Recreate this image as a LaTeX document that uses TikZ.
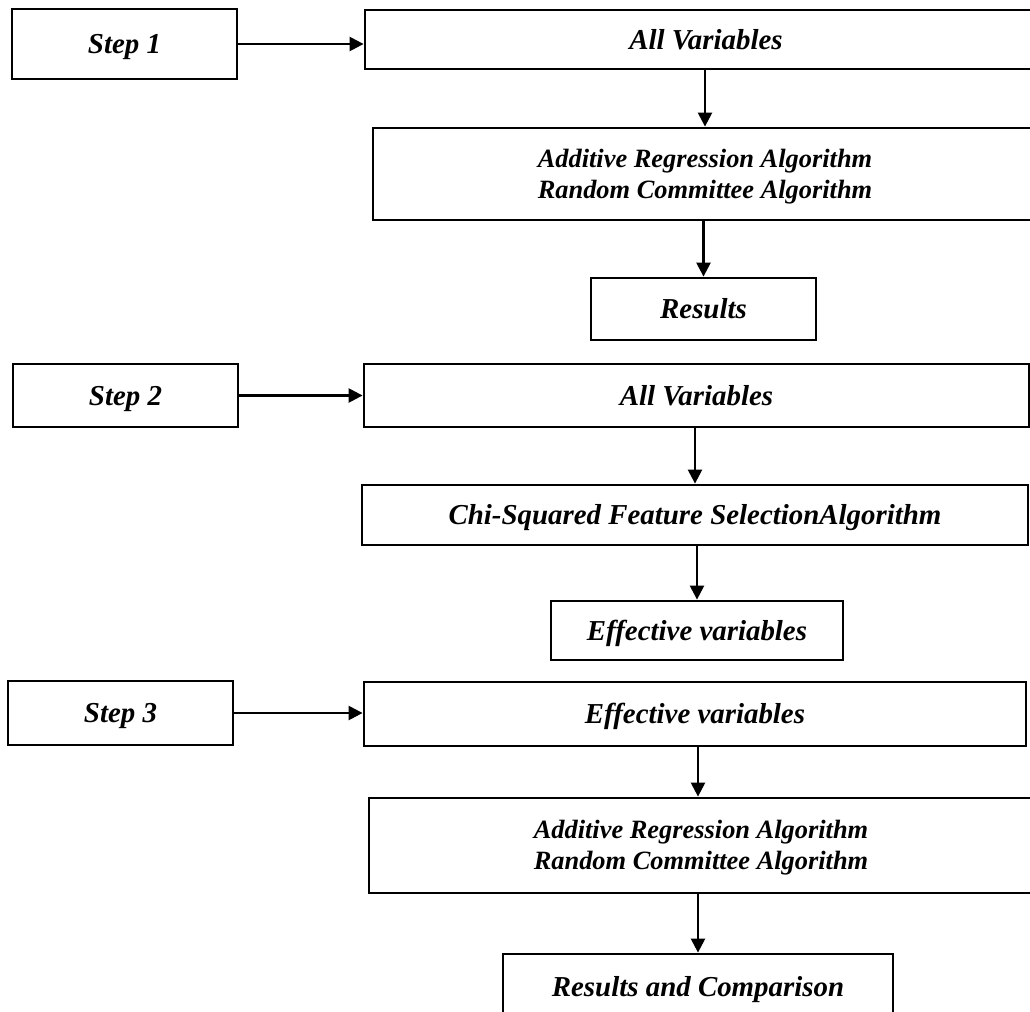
\documentclass[tikz,border=0pt]{standalone}
\usepackage{fontspec}
\setmainfont{Liberation Serif}
\usetikzlibrary{arrows.meta}
\begin{document}
\begin{tikzpicture}[x=1bp,y=-1bp,
  box/.style={draw=black, line width=2.8bp, inner sep=0pt, align=center,
    text height=19bp, text depth=0bp,
    font=\fontsize{29}{31}\selectfont\bfseries\itshape},
  algbox/.style={box, text height=48bp, text depth=0bp,
    font=\fontsize{26.5}{30.7}\selectfont\bfseries\itshape},
  arr/.style={line width=2.4bp, -{Triangle[length=14bp,width=14bp]}}]
\useasboundingbox (0,0) rectangle (1030,1012);
\clip (0,0) rectangle (1030,1012);
% Step 1
\node[box, minimum width=225bp, minimum height=70bp] (step1) at (124.5,44) {Step 1};
\node[box, minimum width=682bp, minimum height=59bp] (allvar1) at (706,39.5) {All Variables};
\node[algbox, minimum width=664bp, minimum height=92bp] (add1) at (705,174) {Additive Regression Algorithm\\Random Committee Algorithm};
\node[box, minimum width=225bp, minimum height=62bp] (res1) at (703.5,309) {Results};
% Step 2
\node[box, minimum width=225bp, minimum height=63bp] (step2) at (125.5,395.5) {Step 2};
\node[box, minimum width=665bp, minimum height=63bp] (allvar2) at (696.5,395.5) {All Variables};
\node[box, minimum width=666bp, minimum height=60bp] (chi) at (695,515) {Chi-Squared Feature SelectionAlgorithm};
\node[box, minimum width=292bp, minimum height=59bp] (eff1) at (697,630.5) {Effective variables};
% Step 3
\node[box, minimum width=225bp, minimum height=64bp] (step3) at (120.5,713) {Step 3};
\node[box, minimum width=662bp, minimum height=64bp] (eff2) at (695,714) {Effective variables};
\node[algbox, minimum width=664bp, minimum height=95bp] (add2) at (701,845.5) {Additive Regression Algorithm\\Random Committee Algorithm};
\node[box, minimum width=390bp, minimum height=66bp] (rc) at (698,987) {Results and Comparison};
% connectors
\draw[arr] (step1.east) -- (step1.east -| allvar1.west);
\draw[arr] (add1.north |- allvar1.south) -- (add1.north);
\draw[arr] (res1.north |- add1.south) -- (res1.north);
\draw[arr] (step2.east) -- (step2.east -| allvar2.west);
\draw[arr] (chi.north |- allvar2.south) -- (chi.north);
\draw[arr] (eff1.north |- chi.south) -- (eff1.north);
\draw[arr] (step3.east) -- (step3.east -| eff2.west);
\draw[arr] (rc.north |- eff2.south) -- (rc.north |- add2.north);
\draw[arr] (rc.north |- add2.south) -- (rc.north);
\end{tikzpicture}
\end{document}
